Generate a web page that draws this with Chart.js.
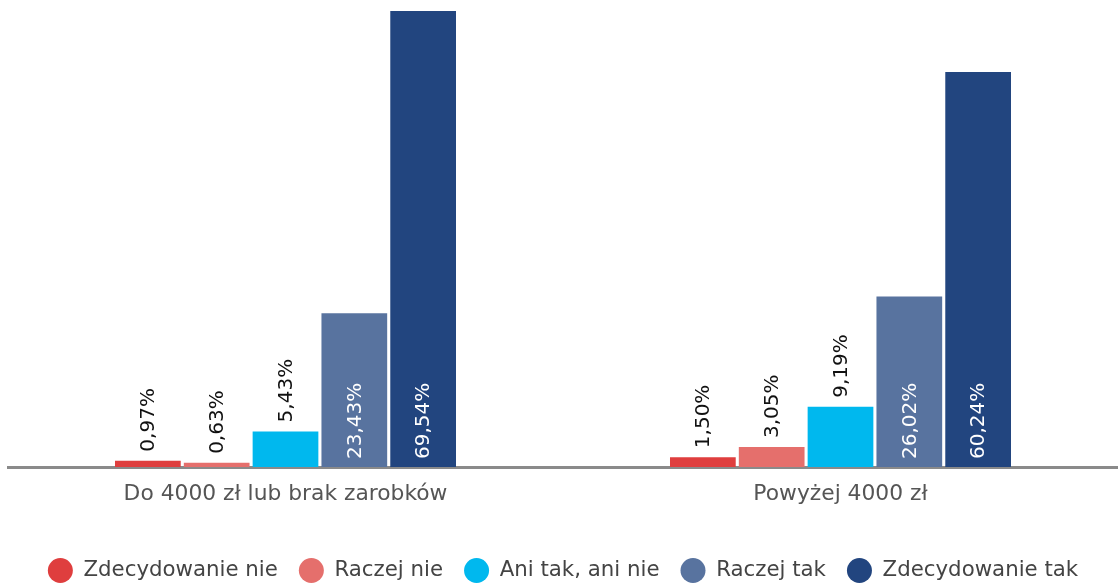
<!DOCTYPE html>
<html>
<head>
<meta charset="utf-8">
<script src="https://cdn.jsdelivr.net/npm/chart.js@4"></script>
<style>
  html, body { margin: 0; padding: 0; background: #fff; }
  #wrap { width: 1118px; height: 583px; position: relative; }
</style>
</head>
<body>
<div id="wrap"><canvas id="chart"></canvas></div>
<script>
// Income groups and answers
const categories = ['Do 4000 zł lub brak zarobków', 'Powyżej 4000 zł'];
const answers = ['Zdecydowanie nie', 'Raczej nie', 'Ani tak, ani nie', 'Raczej tak', 'Zdecydowanie tak'];
const zdecydowanieNie = [0.97, 1.50];
const raczejNie = [0.63, 3.05];
const aniTakAniNie = [5.43, 9.19];
const raczejTak = [23.43, 26.02];
const zdecydowanieTak = [69.54, 60.24];
const colors = ['#df3e3e', '#e56f6c', '#00b8ee', '#58739f', '#22457f'];

const FONT = '"DejaVu Sans", sans-serif';

// value labels, rotated; big bars get white text inside
const barLabels = {
  id: 'barLabels',
  afterDatasetsDraw(chart) {
    const ctx = chart.ctx;
    chart.data.datasets.forEach((ds, i) => {
      const meta = chart.getDatasetMeta(i);
      meta.data.forEach((bar, j) => {
        const v = ds.data[j];
        const txt = v.toFixed(2).replace('.', ',') + '%';
        const inside = v > 15;
        ctx.save();
        ctx.font = '20px ' + FONT;
        ctx.fillStyle = inside ? '#ffffff' : '#111111';
        ctx.textBaseline = 'middle';
        ctx.textAlign = 'left';
        const y0 = inside ? bar.base - 8 : bar.y - 9;
        ctx.translate(bar.x, y0);
        ctx.rotate(-Math.PI / 2);
        ctx.fillText(txt, 0, 1);
        ctx.restore();
      });
    });
  }
};

const series = [zdecydowanieNie, raczejNie, aniTakAniNie, raczejTak, zdecydowanieTak];

new Chart(document.getElementById('chart'), {
  type: 'bar',
  data: {
    labels: categories,
    datasets: series.map((d, i) => ({
      label: answers[i],
      data: d,
      backgroundColor: colors[i],
      barPercentage: 0.955,
      categoryPercentage: 0.62
    }))
  },
  options: {
    responsive: true, maintainAspectRatio: false, animation: false,
    layout: { padding: { top: 8, left: 8, right: 0, bottom: -10 } },
    plugins: {
      legend: {
        position: 'bottom',
        labels: {
          useBorderRadius: true, borderRadius: 12.5,
          boxWidth: 25, boxHeight: 25,
          padding: 21,
          color: '#444',
          font: { family: FONT, size: 21.3 }
        }
      },
      tooltip: { enabled: false }
    },
    scales: {
      x: {
        grid: { display: false },
        border: { display: true, color: '#8a8a8a', width: 3 },
        ticks: { color: '#555', padding: 6, font: { family: FONT, size: 21.8 } },
        afterFit(scale) { scale.height = 70; }
      },
      y: { display: false, min: 0, max: 70 }
    }
  },
  plugins: [barLabels]
});
</script>
</body>
</html>
